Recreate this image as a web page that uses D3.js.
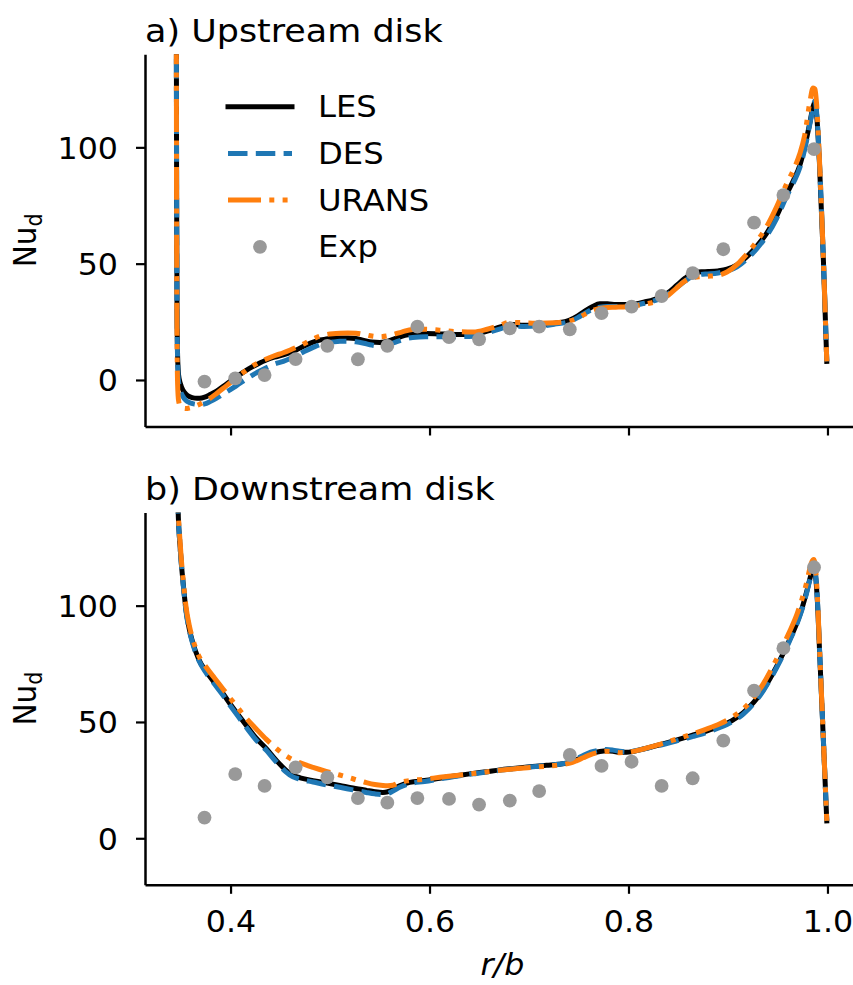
<!DOCTYPE html>
<html>
<head>
<meta charset="utf-8">
<script src="https://cdn.jsdelivr.net/npm/d3@7"></script>
<style>
  html, body { margin: 0; padding: 0; background: #ffffff; }
  svg { display: block; }
  text { font-family: "DejaVu Sans", sans-serif; fill: #000000; }
</style>
</head>
<body>
<svg id="chart" width="853" height="985"></svg>
<script>
// ---- upstream disk: radial grid r/b and local Nusselt numbers ----
const rUp = [0.3455, 0.3458, 0.3462, 0.3468, 0.3478, 0.3495, 0.352, 0.355, 0.359, 0.364,
  0.369, 0.374, 0.379, 0.386, 0.392, 0.399, 0.406, 0.413, 0.419, 0.427,
  0.436, 0.444, 0.453, 0.460, 0.466, 0.474, 0.483, 0.490, 0.496, 0.503,
  0.510, 0.518, 0.526, 0.534, 0.542, 0.550, 0.557, 0.564, 0.572, 0.583,
  0.596, 0.610, 0.627, 0.644, 0.658, 0.671, 0.681, 0.695, 0.711, 0.726,
  0.741, 0.749, 0.756, 0.764, 0.771, 0.779, 0.787, 0.801, 0.816, 0.832,
  0.840, 0.848, 0.857, 0.865, 0.873, 0.880, 0.890, 0.899, 0.909, 0.919,
  0.929, 0.939, 0.949, 0.959, 0.966, 0.972, 0.977, 0.9825, 0.9855, 0.9875,
  0.9895, 0.9918, 0.9959, 0.9993];
const lesUp = [150, 80, 30, 10, 2, -1.5, -4.3, -6.0, -7.2, -7.8,
  -7.9, -7.4, -6.4, -4.8, -2.9, -0.8, 1.4, 3.4, 5.0, 6.8,
  8.6, 9.8, 10.8, 11.8, 12.9, 14.6, 16.3, 17.2, 17.6, 17.9,
  18.0, 18.0, 17.8, 17.0, 16.3, 16.1, 16.6, 17.6, 18.8, 19.8,
  20.0, 19.8, 19.6, 19.6, 21.0, 22.8, 24.0, 23.5, 23.6, 24.4,
  25.8, 27.6, 29.6, 31.6, 32.8, 32.8, 32.4, 32.4, 33.5, 35.6,
  37.6, 40.5, 43.8, 45.9, 46.5, 46.6, 46.9, 47.6, 49.5, 53.0,
  57.5, 63.1, 70.5, 80.0, 86.0, 92.0, 100.0, 111.0, 117.5, 119.5,
  112, 94.6, 51.6, 8.0];
const desUp = [150, 80, 30, 8, -1, -4.5, -7, -8.7, -9.8, -10.4,
  -10.6, -10.3, -9.4, -7.8, -6.2, -4.4, -2.4, -0.4, 1.3, 3.3,
  5.3, 6.8, 8.0, 9.2, 10.4, 12.2, 14.0, 15.2, 15.8, 16.3,
  16.6, 16.6, 16.4, 15.8, 15.0, 14.6, 15.0, 16.0, 17.2, 18.3,
  18.6, 18.6, 18.6, 18.8, 20.2, 22.0, 23.2, 23.0, 23.2, 24.0,
  25.2, 26.8, 28.6, 30.4, 31.3, 31.6, 31.6, 31.8, 33.0, 35.0,
  37.0, 39.6, 42.6, 44.6, 45.4, 45.6, 46.0, 46.8, 48.6, 52.0,
  56.5, 62.0, 69.5, 79.0, 85.0, 91.0, 99.0, 110.5, 117.0, 120.0,
  113, 95, 52, 8];
const uransUp = [150, 60, 20, -2, -9, -11.3, -12.1, -12.3, -12.0, -11.3,
  -10.4, -9.3, -8.0, -5.8, -3.8, -1.4, 1.0, 3.3, 5.2, 7.2,
  9.0, 10.4, 11.7, 12.9, 14.0, 15.6, 17.6, 18.9, 19.5, 19.9,
  20.1, 20.2, 20.1, 19.6, 18.9, 18.6, 18.9, 19.6, 20.6, 21.7,
  21.8, 21.4, 20.8, 20.6, 21.8, 23.6, 24.8, 24.6, 24.4, 24.6,
  25.4, 26.6, 28.2, 29.8, 30.8, 31.2, 31.3, 31.6, 32.6, 34.4,
  36.4, 39.4, 42.6, 44.0, 44.4, 44.6, 45.0, 46.4, 49.6, 54.2,
  59.6, 66.0, 74.5, 84.4, 90.5, 97.0, 105.0, 120.0, 125.5, 125.0,
  116, 96, 52, 8];

// ---- downstream disk ----
const rDown = [0.3462, 0.3475, 0.3490, 0.3504, 0.3525, 0.3554, 0.3585, 0.3621, 0.3680, 0.3756,
  0.3840, 0.3922, 0.4000, 0.4090, 0.4170, 0.4258, 0.4360, 0.4460, 0.4550, 0.4627,
  0.4700, 0.4829, 0.4960, 0.5097, 0.5230, 0.5365, 0.5450, 0.5532, 0.5580, 0.5633,
  0.5700, 0.5801, 0.5950, 0.6103, 0.6270, 0.6438, 0.6570, 0.6706, 0.6840, 0.7010,
  0.7176, 0.7300, 0.7411, 0.7480, 0.7545, 0.7620, 0.7712, 0.7780, 0.7846, 0.7910,
  0.7981, 0.8150, 0.8316, 0.8480, 0.8651, 0.8790, 0.8919, 0.9040, 0.9154, 0.9260,
  0.9356, 0.9440, 0.9523, 0.9610, 0.9691, 0.9745, 0.9791, 0.9820, 0.9842, 0.9862,
  0.9880, 0.9900, 0.9920, 0.9960, 0.9993];
const lesDown = [160, 138, 127, 118.9, 109, 97.5, 90, 84, 77, 71.6,
  66.8, 62.3, 57.5, 52.3, 47.8, 43.0, 38.5, 33.5, 29.5, 27.0,
  26.0, 24.8, 23.8, 22.7, 21.6, 20.6, 20.0, 19.7, 20.0, 21.0,
  22.6, 24.0, 24.8, 25.8, 26.9, 27.9, 28.6, 29.4, 30.0, 30.7,
  31.4, 31.8, 32.6, 33.8, 35.0, 36.4, 37.3, 37.6, 37.4, 37.0,
  37.0, 38.4, 40.2, 42.2, 44.4, 46.2, 48.2, 50.6, 54.0, 58.5,
  64.0, 70.0, 76.7, 84.5, 92.4, 99.0, 106.0, 111.0, 114.5, 116.5,
  113.0, 101.0, 81.0, 41.0, 7.5];
const desDown = [160, 138, 127, 118.5, 108.5, 97, 89.5, 83.5, 76.5, 71,
  66.2, 61.6, 56.8, 51.6, 47, 42.2, 37.8, 32.8, 28.8, 26.4,
  25.4, 24.2, 23.0, 21.9, 20.8, 19.7, 19.1, 18.8, 19.2, 20.3,
  21.9, 23.5, 24.4, 25.5, 26.7, 27.7, 28.5, 29.2, 29.9, 30.6,
  31.3, 31.8, 32.8, 34.2, 35.6, 37.0, 37.9, 38.2, 37.9, 37.4,
  37.2, 38.4, 40.0, 41.8, 43.8, 45.6, 47.6, 50.0, 53.4, 58.0,
  63.5, 69.5, 76.2, 84.0, 92.0, 98.5, 105.5, 110.5, 114.0, 116.0,
  113.5, 101.5, 81.5, 41.5, 7.5];
const uransDown = [160, 140, 129, 120.5, 110.5, 99, 91.5, 85.5, 78.5, 73.5,
  68.8, 64.3, 60.0, 55.2, 51.0, 47.0, 42.5, 38.6, 35.6, 33.7,
  32.4, 30.5, 28.8, 27.2, 25.6, 23.9, 23.1, 22.7, 22.6, 22.8,
  24.0, 24.8, 25.4, 26.2, 27.0, 27.8, 28.5, 29.2, 29.8, 30.4,
  31.0, 31.5, 32.3, 33.4, 34.6, 36.0, 37.0, 37.4, 37.2, 36.8,
  36.9, 38.4, 40.4, 42.6, 45.0, 47.0, 49.2, 52.0, 55.6, 60.5,
  66.5, 73.0, 80.0, 88.0, 96.0, 103.0, 110.0, 115.5, 118.8, 119.8,
  116.0, 103.0, 82.0, 41.5, 7.5];

// ---- measurements ----
const rExp = [0.3738, 0.4047, 0.4342, 0.4654, 0.4973, 0.528, 0.5576, 0.5878, 0.6196, 0.6498,
  0.6807, 0.7102, 0.741, 0.7729, 0.8031, 0.8333, 0.8645, 0.8953, 0.9262, 0.9557, 0.9865];
const expUp = [-0.7, 0.7, 2.1, 9.0, 14.7, 8.9, 14.7, 22.9, 18.4, 17.5,
  22.2, 22.9, 21.8, 28.7, 31.5, 36.1, 45.9, 56.2, 67.6, 79.5, 99.2];
const expDown = [8.9, 27.6, 22.5, 30.5, 26.2, 17.3, 15.3, 17.3, 16.9, 14.5,
  16.2, 20.3, 35.8, 31.1, 32.9, 22.5, 25.8, 42.0, 63.5, 81.7, 116.5];

// ---- axes text ----
const xTicks = [0.4, 0.6, 0.8, 1.0];
const yTicks = [0, 50, 100];
const panelTitles = ["a) Upstream disk", "b) Downstream disk"];
const seriesNames = ["LES", "DES", "URANS", "Exp"];

// ---- drawing ----
const SX = 1.075;                 // glyph aspect of the figure
const svg = d3.select("#chart");
const defs = svg.append("defs");
const x = d3.scaleLinear().domain([0.314, 1.0327]).range([145, 860]);

const styles = {
  LES:   { color: "#000000", dash: null,                    cap: "square" },
  DES:   { color: "#1f77b4", dash: "19.5,8.3",              cap: "butt" },
  URANS: { color: "#ff7f0e", dash: "33,8.3,5,8.3,5,8.3",    cap: "butt" }
};
const expColor = "#999999";

const panels = [
  { top: 54.3, bottom: 426.5, title: panelTitles[0], showX: false, legend: true,
    series: [["LES", rUp, lesUp], ["DES", rUp, desUp], ["URANS", rUp, uransUp]], exp: expUp },
  { top: 512.6, bottom: 884.8, title: panelTitles[1], showX: true, legend: false,
    series: [["LES", rDown, lesDown], ["DES", rDown, desDown], ["URANS", rDown, uransDown]], exp: expDown }
];

panels.forEach((p, i) => {
  const y = d3.scaleLinear().domain([-20, 140]).range([p.bottom, p.top]);
  const g = svg.append("g");

  defs.append("clipPath").attr("id", "clip" + i)
    .append("rect").attr("x", x.range()[0]).attr("y", p.top)
    .attr("width", x.range()[1] - x.range()[0]).attr("height", p.bottom - p.top);

  const plot = g.append("g").attr("clip-path", `url(#clip${i})`);
  const line = d3.line().x(d => x(d[0])).y(d => y(d[1])).curve(d3.curveMonotoneX);

  p.series.forEach(([name, rs, vs]) => {
    const st = styles[name];
    plot.append("path")
      .datum(rs.map((r, k) => [r, vs[k]]))
      .attr("d", line)
      .attr("fill", "none")
      .attr("stroke", st.color)
      .attr("stroke-width", 5)
      .attr("stroke-linejoin", "round")
      .attr("stroke-linecap", st.cap)
      .attr("stroke-dasharray", st.dash);
  });

  plot.selectAll("circle.exp")
    .data(rExp.map((r, k) => [r, p.exp[k]]))
    .join("circle")
    .attr("class", "exp")
    .attr("cx", d => x(d[0]))
    .attr("cy", d => y(d[1]))
    .attr("r", 6.9)
    .attr("fill", expColor);

  // bottom axis
  const ax = g.append("g")
    .attr("transform", `translate(0,${p.bottom})`)
    .call(d3.axisBottom(x).tickValues(xTicks).tickSize(9).tickSizeOuter(0)
      .tickFormat(p.showX ? d3.format(".1f") : () => ""))
    .attr("font-size", null).attr("font-family", null);
  ax.select(".domain").attr("stroke-width", 2.5);
  ax.selectAll(".tick line").attr("stroke-width", 2.2);
  ax.selectAll(".tick text")
    .attr("y", 47.7).attr("dy", null)
    .attr("transform", `scale(${SX},1)`)
    .style("font-size", "29.5px");

  // left axis
  const ay = g.append("g")
    .attr("transform", `translate(${x.range()[0]},0)`)
    .call(d3.axisLeft(y).tickValues(yTicks).tickSize(9).tickSizeOuter(0))
    .attr("font-size", null).attr("font-family", null);
  ay.select(".domain").attr("stroke-width", 2.5);
  ay.selectAll(".tick line").attr("stroke-width", 2.2);
  ay.selectAll(".tick text")
    .attr("x", -27 / SX).attr("y", 10.9).attr("dy", null)
    .attr("transform", `scale(${SX},1)`)
    .style("font-size", "29.5px");

  // panel title
  g.append("text")
    .attr("transform", `translate(${x.range()[0]},${p.top - 12.8}) scale(${SX},1)`)
    .style("font-size", "32.5px")
    .text(p.title);

  // y label Nu_d
  const yl = g.append("text")
    .attr("transform", `translate(36,${(p.top + p.bottom) / 2}) scale(${SX},1) rotate(-90)`)
    .attr("text-anchor", "middle")
    .style("font-size", "29.5px");
  yl.append("tspan").text("Nu");
  yl.append("tspan").attr("dy", 5.5).style("font-size", "20.6px").text("d");

  // legend
  if (p.legend) {
    const lg = g.append("g");
    const rowY = k => 106.7 + k * 46.7;
    seriesNames.forEach((name, k) => {
      if (styles[name]) {
        const st = styles[name];
        lg.append("line")
          .attr("x1", 228).attr("x2", 292)
          .attr("y1", rowY(k)).attr("y2", rowY(k))
          .attr("stroke", st.color).attr("stroke-width", 5)
          .attr("stroke-linecap", st.cap)
          .attr("stroke-dasharray", st.dash);
      } else {
        lg.append("circle").attr("cx", 260).attr("cy", rowY(k)).attr("r", 6.9).attr("fill", expColor);
      }
      lg.append("text")
        .attr("transform", `translate(318,${rowY(k) + 10.6}) scale(${SX},1)`)
        .style("font-size", "30px")
        .text(name);
    });
  }
});

// x label
svg.append("text")
  .attr("transform", `translate(502.5,975) scale(${SX},1)`)
  .attr("text-anchor", "middle")
  .style("font-size", "29.5px")
  .style("font-style", "italic")
  .text("r/b");
</script>
</body>
</html>
